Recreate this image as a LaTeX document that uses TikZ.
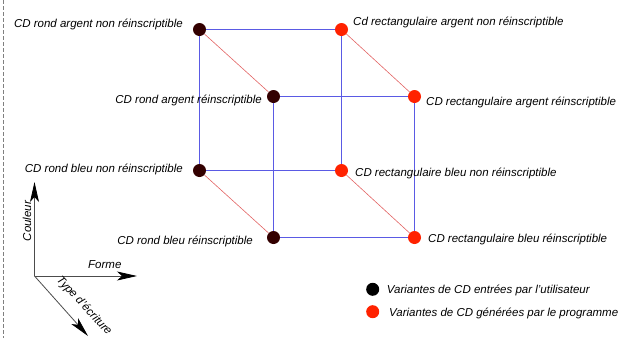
\documentclass[tikz,border=0pt]{standalone}
\usepackage{fontspec}
\setmainfont{Liberation Sans}
\usetikzlibrary{arrows.meta}
\definecolor{rond}{RGB}{51,0,0}
\definecolor{rect}{RGB}{255,34,0}
\definecolor{arete}{RGB}{90,90,228}
\definecolor{diag}{RGB}{226,100,100}
\tikzset{
  sommet/.style={circle,inner sep=0pt,minimum size=13pt},
  etiq/.style={inner sep=0pt,font=\fontsize{11.5}{13}\selectfont\itshape},
  fleche/.style={draw=black!70,line width=0.8pt,-{Stealth[length=20pt,width=9pt,inset=5pt,color=black]}},
}
\begin{document}
\begin{tikzpicture}[x=1pt,y=-1pt]
  \useasboundingbox (0,0) rectangle (625,338);
  \draw[gray,dash pattern=on 4pt off 2pt] (3,0) -- (3,338);
  % sommets du cube
  \foreach \n/\x/\y/\c in {A/199.5/29.5/rond, B/341.5/29.5/rect, C/199.5/170.5/rond, D/341.5/170.5/rect,
                           E/273.5/96.5/rond, F/414.5/96.5/rect, G/273.5/237.5/rond, H/414.5/237.5/rect}{
    \node[sommet,fill=\c](\n) at(\x,\y) {};
  }
  \foreach \a/\b in {A/B,A/C,B/D,C/D,E/F,E/G,F/H,G/H}{
    \draw[arete,line width=1.3pt](\a)--(\b);
  }
  \foreach \a/\b in {A/E,B/F,C/G,D/H}{
    \draw[diag,line width=0.6pt](\a)--(\b);
  }
  % etiquettes
  \foreach \n/\x/\y/\p/\t in {A/183/27/base east/{CD rond argent non réinscriptible},
                              B/353/25/base west/{Cd rectangulaire argent non réinscriptible},
                              E/262/103/base east/{CD rond argent réinscriptible},
                              F/426/105/base west/{CD rectangulaire argent réinscriptible},
                              C/183/172/base east/{CD rond bleu non réinscriptible},
                              D/355/176/base west/{CD rectangulaire bleu non réinscriptible},
                              G/253/244/base east/{CD rond bleu réinscriptible},
                              H/428/242/base west/{CD rectangulaire bleu réinscriptible}}{
    \node[etiq,anchor=\p](L\n) at(\x,\y) {\t};
  }
  % legende
  \node[sommet,fill=black](K1) at(372.7,289.3) {};
  \node[sommet,fill=rect](K2) at(372.7,311.7) {};
  \node[etiq,anchor=base west](LK1) at(386.7,293) {Variantes de CD entrées par l'utilisateur};
  \node[etiq,anchor=base west](LK2) at(389,316) {Variantes de CD générées par le programme};
  % axes
  \coordinate (O) at(34.5,276);
  \coordinate (Fx) at(137,276);
  \coordinate (Cy) at(34.5,182);
  \coordinate (Tz) at(88,336);
  \draw[fleche](O)--(Fx);
  \draw[fleche](O)--(Cy);
  \draw[fleche](O)--(Tz);
  \node[etiq,anchor=base west](LFx) at(88,268) {Forme};
  \node[etiq,rotate=90](LCy) at(27,221) {Couleur};
  \node[etiq,rotate=-47](LTz) at(84,306) {Type d'écriture};
\end{tikzpicture}
\end{document}
